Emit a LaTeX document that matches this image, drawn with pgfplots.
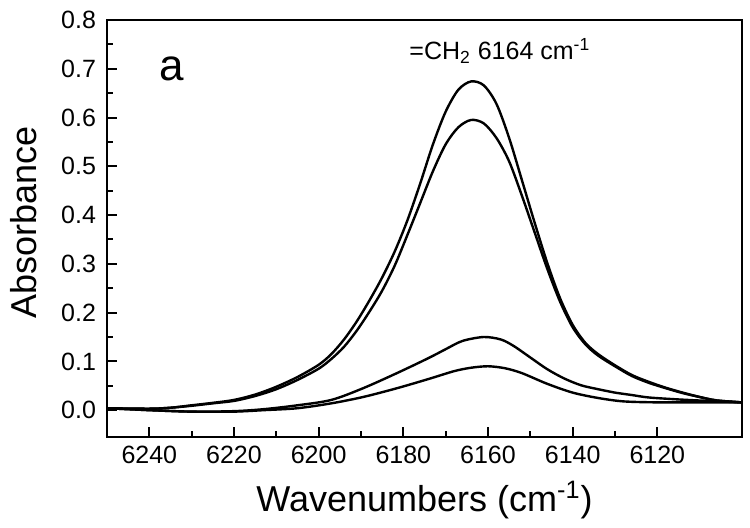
\documentclass[border=0pt]{standalone}
\usepackage{pgfplots}
\pgfplotsset{compat=1.18}
\usepackage{fontspec}
\setmainfont{Liberation Sans}
\begin{document}
\begin{tikzpicture}
\useasboundingbox (-53.5pt,-45.5pt) rectangle (321.5pt,218.5pt);
\begin{axis}[
  scale only axis, width=317.5pt, height=208.5pt,
  x dir=reverse,
  xmin=6100, xmax=6250, ymin=-0.055, ymax=0.8,
  xtick={6120,6140,...,6240}, minor x tick num=1,
  ytick={0,0.1,...,0.8}, minor y tick num=1,
  tick pos=left, tick align=inside,
  major tick length=5pt, minor tick length=3pt,
  every tick/.style={line width=1pt, black},
  axis line style={line width=1.4pt},
  /pgf/number format/assume math mode=true,
  xticklabel style={font=\fontsize{12.5}{14}\selectfont, /pgf/number format/set thousands separator={}, yshift=-1pt},
  yticklabel style={font=\fontsize{12.5}{14}\selectfont, /pgf/number format/fixed, /pgf/number format/fixed zerofill, /pgf/number format/precision=1, xshift=-2pt},
  every axis x label/.style={at={(rel axis cs:0.5,0)}, anchor=center, yshift=-31.5pt, font=\fontsize{18}{20}\selectfont},
  every axis y label/.style={at={(rel axis cs:0,0.5)}, anchor=center, xshift=-41.5pt, yshift=3pt, rotate=90, font=\fontsize{18}{20}\selectfont},
  xlabel={Wavenumbers (cm\textsuperscript{-1})},
  ylabel={Absorbance},
  clip=true,
]
\addplot[black, line width=1.2pt, smooth] coordinates {
(6250,0.004)(6240,0.003)(6235,0.005)(6230,0.010)(6225,0.015)(6220,0.021)(6215,0.032)(6210,0.048)(6205,0.068)(6200,0.093)(6197,0.115)(6194,0.145)(6191,0.182)(6188,0.225)(6185,0.272)(6182,0.326)(6179,0.39)(6176,0.465)(6173,0.545)(6170,0.612)(6167,0.657)(6164,0.674)(6161,0.666)(6158,0.628)(6155,0.558)(6152,0.472)(6149,0.385)(6146,0.302)(6143,0.23)(6140,0.175)(6137,0.138)(6134,0.115)(6130,0.092)(6126,0.072)(6122,0.058)(6118,0.046)(6114,0.036)(6110,0.027)(6106,0.02)(6100,0.016)
};
\addplot[black, line width=1.2pt, smooth] coordinates {
(6250,0.004)(6240,0.003)(6235,0.005)(6230,0.009)(6225,0.014)(6220,0.019)(6215,0.029)(6210,0.043)(6205,0.062)(6200,0.085)(6197,0.105)(6194,0.13)(6191,0.163)(6188,0.202)(6185,0.245)(6182,0.297)(6179,0.36)(6176,0.425)(6173,0.49)(6170,0.545)(6167,0.58)(6164,0.595)(6161,0.588)(6158,0.558)(6155,0.51)(6152,0.44)(6149,0.365)(6146,0.29)(6143,0.223)(6140,0.17)(6137,0.135)(6134,0.112)(6130,0.09)(6126,0.07)(6122,0.056)(6118,0.045)(6114,0.035)(6110,0.027)(6106,0.02)(6100,0.016)
};
\addplot[black, line width=1.2pt, smooth] coordinates {
(6250,0.004)(6240,0.0)(6230,-0.003)(6220,-0.002)(6213,0.002)(6205,0.010)(6197,0.021)(6189.5,0.045)(6181.5,0.076)(6174,0.107)(6170,0.125)(6166,0.142)(6161,0.150)(6157,0.145)(6154,0.132)(6150,0.108)(6146,0.084)(6142,0.065)(6138,0.051)(6134,0.043)(6130,0.036)(6126,0.031)(6122,0.026)(6115,0.022)(6108,0.019)(6100,0.016)
};
\addplot[black, line width=1.2pt, smooth] coordinates {
(6250,0.004)(6240,0.0)(6230,-0.003)(6220,-0.003)(6213,0.0)(6205,0.004)(6197,0.014)(6189.5,0.027)(6181.5,0.045)(6174,0.064)(6168,0.080)(6164,0.087)(6160,0.09)(6156,0.086)(6152,0.076)(6146,0.054)(6140,0.036)(6134,0.025)(6128,0.018)(6120,0.016)(6110,0.016)(6100,0.016)
};
\node[font=\fontsize{22}{24}\selectfont] at (axis cs:6234.6,0.70) {a};
\node[font=\fontsize{12.5}{14}\selectfont] at (axis cs:6157.2,0.737) {=CH\textsubscript{2} 6164 cm\textsuperscript{-1}};
\end{axis}
\end{tikzpicture}
\end{document}
